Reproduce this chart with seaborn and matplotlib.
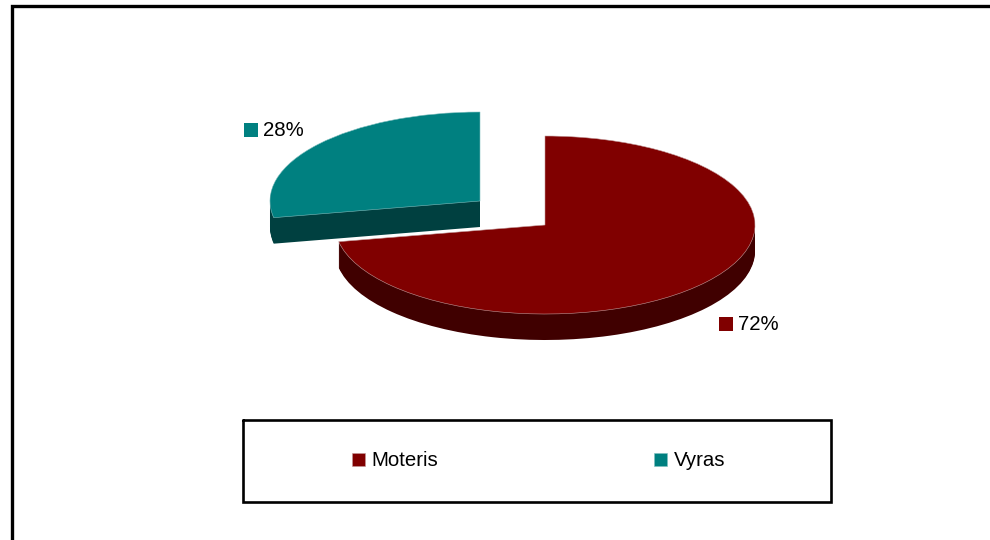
import numpy as np
import seaborn as sns
import matplotlib.pyplot as plt

# duomenys
labels = ['Moteris', 'Vyras']
shares = [72, 28]
top_colors = ['#800000', '#008080']
side_colors = ['#400000', '#004040']

# pie geometry in pixels of the 990x540 picture
W, H = 990, 540
RX, RY = 210, 89
DEPTH = 27
CENTERS = [(545, 225), (480, 201)]
LABEL_POS = [(719, 324), (244, 130)]

sns.set_theme(style='white')
plt.rcParams['font.family'] = ['Liberation Sans', 'DejaVu Sans']
palette = sns.color_palette(top_colors)
dark = sns.color_palette(side_colors)

fig = plt.figure(figsize=(W / 100, H / 100), dpi=100, facecolor='white')
ax = fig.add_axes([0, 0, 1, 1])


def to_pie(x, y):
    return ((x - CENTERS[0][0]) / RX, (CENTERS[0][1] - y) / RY)


# Draw one slice only, the other one is hidden
def draw_slice(i, cx, cy, color, edge=None):
    wedges, _ = ax.pie(shares, colors=[color, color], startangle=90, counterclock=False,
                       center=to_pie(cx, cy), radius=1,
                       wedgeprops={'linewidth': 0.4 if edge else 0,
                                   'edgecolor': edge if edge else 'none'})
    wedges[1 - i].set_visible(False)
    return wedges[i]


# teal slice first, the red one lies over it
handles = {}
for i in [1, 0]:
    cx, cy = CENTERS[i]
    for d in np.arange(DEPTH - 1, 0, -1):
        draw_slice(i, cx, cy + d, dark[i])
    edge = '#c49a9a' if i == 0 else '#7fbfbf'
    handles[i] = draw_slice(i, cx, cy, palette[i], edge=edge)

ax.set_aspect('auto')
ax.set_xlim(to_pie(0, 0)[0], to_pie(W, 0)[0])
ax.set_ylim(to_pie(0, H)[1], to_pie(0, 0)[1])
ax.axis('off')

# overlay in pixel coordinates for frame, labels and legend
over = fig.add_axes([0, 0, 1, 1], facecolor='none')
over.set_xlim(0, W)
over.set_ylim(H, 0)
over.axis('off')

over.plot([11.5, 11.5, W], [H, 6, 6], color='black', lw=2.4, solid_joinstyle='miter')
over.plot([242.5, 831, 831, 242.5, 242.5], [419.5, 419.5, 501.5, 501.5, 419.5], color='black', lw=1.9,
          solid_joinstyle='miter')

for i, (x, y) in enumerate(LABEL_POS):
    over.scatter([x + 7], [y], marker='s', s=100, color=palette[i], linewidths=0)
    over.text(x + 19, y - 1, f'{shares[i]}%', fontsize=14.7, color='black', va='center_baseline', ha='left')

over.legend([handles[0], handles[1]], labels, loc='center left', ncol=2,
            bbox_to_anchor=(352 / W, 1 - 461 / H), frameon=False, fontsize=14.7,
            borderpad=0, borderaxespad=0, handlelength=0.65, handleheight=0.65,
            handletextpad=0.32, columnspacing=10.55, labelcolor='black')

fig.savefig('out.png', dpi=100, facecolor='white')
